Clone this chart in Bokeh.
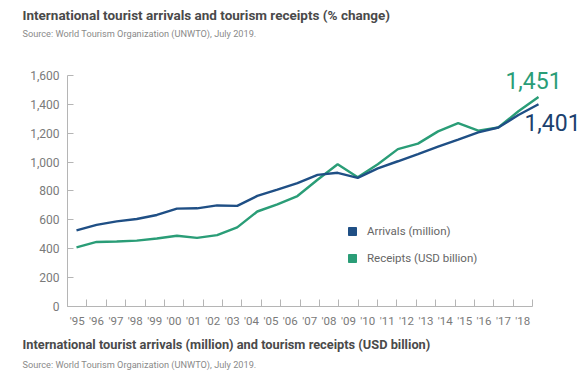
from bokeh.plotting import figure
from bokeh.models import (Range1d, LinearAxis, FixedTicker, NumeralTickFormatter,
                          Label, Legend, LegendItem, ColumnDataSource, Title)
from bokeh.embed import file_html
from bokeh.resources import INLINE

# ---------------- data ----------------
years = list(range(1995, 2019))
year_labels = ["'95", "'96", "'97", "'98", "'99", "'00", "'01", "'02", "'03", "'04",
               "'05", "'06", "'07", "'08", "'09", "'10", "'11", "'12", "'13", "'14",
               "'15", "'16", "'17", "'18"]
arrivals = [527, 565, 590, 606, 634, 678, 680, 700, 697, 766, 810, 855,
            912, 926, 891, 957, 1006, 1056, 1107, 1156, 1206, 1240, 1326, 1401]
receipts = [410, 447, 450, 456, 471, 490, 475, 494, 548, 658, 708, 765,
            878, 985, 895, 985, 1090, 1128, 1213, 1270, 1218, 1240, 1352, 1451]
y_ticks = [0, 200, 400, 600, 800, 1000, 1200, 1400, 1600]
series_names = ["Arrivals (million)", "Receipts (USD billion)"]
end_labels = ["1,401", "1,451"]
title_top = "International tourist arrivals and tourism receipts (% change)"
title_bottom = "International tourist arrivals (million) and tourism receipts (USD billion)"
source_text = "Source: World Tourism Organization (UNWTO), July 2019."

C_ARR = "#1f4f85"
C_REC = "#2a9d77"
C_ARR_TXT = "#1c416e"
FONT = "Roboto"
FRAME_LEFT = 67

p = figure(width=587, height=375, output_backend="svg", toolbar_location=None,
           x_range=Range1d(1994.552, 2020.439), y_range=Range1d(0, 1842.4),
           x_axis_location=None, y_axis_location=None,
           min_border_left=FRAME_LEFT, min_border_right=0, min_border_top=40, min_border_bottom=69)
p.outline_line_color = None
p.xgrid.visible = False
p.ygrid.visible = False
p.background_fill_color = "white"
p.border_fill_color = "white"

# titles above
p.title.text = title_top
p.title.align = "left"
p.title.offset = 22 - FRAME_LEFT
p.title.text_font = FONT
p.title.text_font_size = "13.5px"
p.title.text_font_style = "bold"
p.title.text_color = "#4a4a4a"
p.title.standoff = 3
src_top = Title(text=source_text, align="left", offset=22 - FRAME_LEFT, text_font=FONT,
                text_font_size="9.2px", text_font_style="normal", text_color="#8a8a8a",
                standoff=3)
p.add_layout(src_top, "above")

# y axis
yax = LinearAxis(ticker=FixedTicker(ticks=y_ticks), formatter=NumeralTickFormatter(format="0,0"),
                 bounds=(0, 1600))
yax.axis_line_color = "#b5b5b5"
yax.major_tick_line_color = "#b5b5b5"
yax.major_tick_in = 6
yax.major_tick_out = 0
yax.minor_tick_line_color = None
yax.major_label_text_color = "#7a7a7a"
yax.major_label_text_font = FONT
yax.major_label_text_font_size = "12px"
yax.major_label_standoff = 8
p.add_layout(yax, "left")

# x axis (category-style labels, boundary ticks)
p.extra_x_ranges = {"lab": Range1d(0, 53.677)}
xax = LinearAxis(x_range_name="lab",
                 ticker=FixedTicker(ticks=[2 * i + 1 for i in range(len(year_labels))],
                                    minor_ticks=[2 * i for i in range(len(year_labels) + 1)]),
                 major_label_overrides={2 * i + 1: lab for i, lab in enumerate(year_labels)},
                 bounds=(0, 2 * len(year_labels)))
xax.axis_line_color = "#b5b5b5"
xax.major_tick_line_color = None
xax.minor_tick_line_color = "#b5b5b5"
xax.minor_tick_in = 7
xax.minor_tick_out = 0
xax.major_label_text_color = "#7a7a7a"
xax.major_label_text_font = FONT
xax.major_label_text_font_size = "11.5px"
xax.major_label_standoff = 1
p.add_layout(xax, "below")

# titles below
p.add_layout(Title(text=title_bottom, align="left", offset=22 - FRAME_LEFT, text_font=FONT,
                   text_font_size="12.8px", text_font_style="bold", text_color="#4a4a4a",
                   standoff=8), "below")
p.add_layout(Title(text=source_text, align="left", offset=22 - FRAME_LEFT, text_font=FONT,
                   text_font_size="9.2px", text_font_style="normal", text_color="#8a8a8a",
                   standoff=2), "below")

# lines
src = ColumnDataSource(dict(year=years, arrivals=arrivals, receipts=receipts))
p.line("year", "receipts", source=src, line_color=C_REC, line_width=2.4)
p.line("year", "arrivals", source=src, line_color=C_ARR, line_width=2.4)

# end labels
p.add_layout(Label(x=years[-1], y=receipts[-1], text=end_labels[1], text_color=C_REC,
                   text_font=FONT, text_font_size="23px", text_align="center",
                   text_baseline="alphabetic", x_offset=-5, y_offset=17))
p.add_layout(Label(x=years[-1], y=arrivals[-1], text=end_labels[0], text_color=C_ARR_TXT,
                   text_font=FONT, text_font_size="23px", text_align="center",
                   text_baseline="alphabetic", x_offset=14, y_offset=-18))

# legend with square swatches (dummy renderers with no visible points)
nan = float("nan")
e1 = ColumnDataSource(dict(x=[nan], y=[nan]))
e2 = ColumnDataSource(dict(x=[nan], y=[nan]))
r1 = p.scatter("x", "y", source=e1, marker="square", fill_color=C_ARR, line_color=C_ARR)
r2 = p.scatter("x", "y", source=e2, marker="square", fill_color=C_REC, line_color=C_REC)
leg = Legend(items=[LegendItem(label=series_names[0], renderers=[r1]),
                    LegendItem(label=series_names[1], renderers=[r2])],
             location=(275, 38), orientation="vertical",
             glyph_width=20, glyph_height=20, label_height=20, spacing=7,
             label_standoff=5, padding=0, margin=0,
             border_line_alpha=0, background_fill_alpha=0,
             label_text_font=FONT, label_text_font_size="11.5px", label_text_color="#666666")
p.add_layout(leg, "center")

open("out.html", "w").write(file_html(p, INLINE))
